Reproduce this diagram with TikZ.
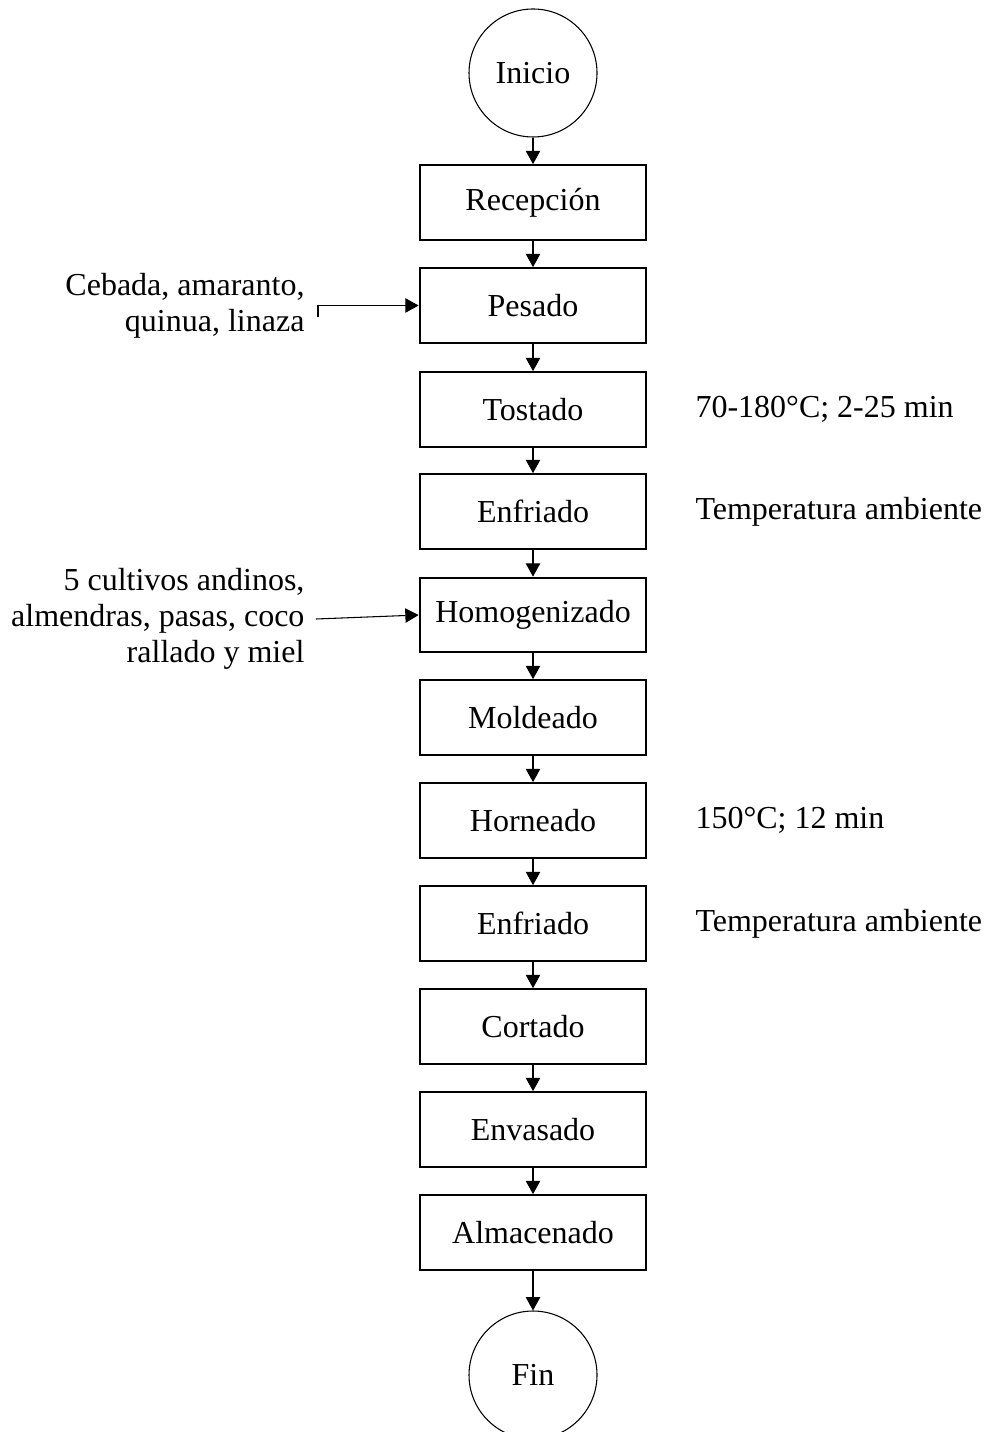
\documentclass[tikz,border=0pt]{standalone}
\usepackage{fontspec}
\setmainfont{Liberation Serif}
\usetikzlibrary{arrows.meta}

\tikzset{
  proceso/.style={draw, line width=0.75pt, minimum width=85pt, minimum height=28pt, inner sep=0pt},
  terminal/.style={draw, circle, line width=0.4pt, minimum size=48pt, inner sep=0pt},
  flecha/.style={-{Triangle[length=5pt,width=5.4pt]}, line width=0.4pt},
  nota/.style={anchor=west, inner sep=0pt},
  entrada/.style={anchor=east, align=right, inner sep=0pt}
}

\begin{document}
\begin{tikzpicture}[x=0.375pt,y=-0.375pt,font=\fontsize{12}{13.5}\selectfont]
			\useasboundingbox (0,0) rectangle (988,1432);

			% Start and end of the process
			\node [terminal] (inicio) at (533,73) {Inicio};
			\node [terminal] (fin) at (533,1375) {Fin};

			% The steps, one under the other
			\node [proceso] (recepcion) at (533,202.5) {Recepción};
			\node [proceso] (pesado) at (533,305.5) {Pesado};
			\node [proceso] (tostado) at (533,409.5) {Tostado};
			\node [proceso] (enfriadoa) at (533,511.5) {Enfriado};
			\node [proceso] (homogenizado) at (533,615) {Homogenizado};
			\node [proceso] (moldeado) at (533,717.5) {Moldeado};
			\node [proceso] (horneado) at (533,820.5) {Horneado};
			\node [proceso] (enfriadob) at (533,923.5) {Enfriado};
			\node [proceso] (cortado) at (533,1026.5) {Cortado};
			\node [proceso] (envasado) at (533,1129.5) {Envasado};
			\node [proceso] (almacenado) at (533,1232.5) {Almacenado};

			% Arrows down the main line
			\draw [flecha] (inicio) -- (recepcion);
			\draw [flecha] (recepcion) -- (pesado);
			\draw [flecha] (pesado) -- (tostado);
			\draw [flecha] (tostado) -- (enfriadoa);
			\draw [flecha] (enfriadoa) -- (homogenizado);
			\draw [flecha] (homogenizado) -- (moldeado);
			\draw [flecha] (moldeado) -- (horneado);
			\draw [flecha] (horneado) -- (enfriadob);
			\draw [flecha] (enfriadob) -- (cortado);
			\draw [flecha] (cortado) -- (envasado);
			\draw [flecha] (envasado) -- (almacenado);
			\draw [flecha] (almacenado) -- (fin);

			% Conditions on the right
			\node [nota] (notatostado) at (695,409.5) {70-180°C; 2-25 min};
			\node [nota] (notaenfriadoa) at (695,511.5) {Temperatura ambiente};
			\node [nota] (notahorneado) at (695,820.5) {150°C; 12 min};
			\node [nota] (notaenfriadob) at (695,923.5) {Temperatura ambiente};

			% Ingredients coming in from the left
			\node [entrada] (granos) at (305,306) {Cebada, amaranto,\\quinua, linaza};
			\coordinate (granosin) at (318,317);
			\draw [flecha] (granosin) |- (pesado.west);

			\node [entrada] (insumos) at (305,619) {5 cultivos andinos,\\almendras, pasas, coco\\rallado y miel};
			\coordinate (insumosin) at (316,619);
			\draw [flecha] (insumosin) -- (homogenizado.west);

			\end{tikzpicture}
\end{document}
